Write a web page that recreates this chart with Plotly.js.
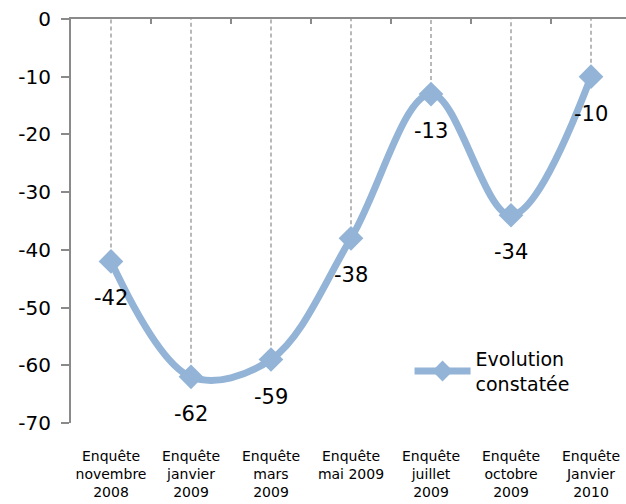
<!DOCTYPE html>
<html><head><meta charset="utf-8">
<script src="https://cdn.plot.ly/plotly-3.0.1.min.js"></script>
<style>body{margin:0;padding:0;background:#fff}</style>
</head><body><div id="chart" style="width:626px;height:504px"></div>
<script>
const categories = [
  "Enquête<br>novembre<br>2008",
  "Enquête<br>janvier<br>2009",
  "Enquête<br>mars<br>2009",
  "Enquête<br>mai 2009",
  "Enquête<br>juillet<br>2009",
  "Enquête<br>octobre<br>2009",
  "Enquête<br>Janvier<br>2010"
];
const values = [-42, -62, -59, -38, -13, -34, -10];
const seriesName = "Evolution<br>constatée";
const yTicks = [0, -10, -20, -30, -40, -50, -60, -70];

const FONT = "DejaVu Sans, sans-serif";
const idx = categories.map((c, i) => i);

const traces = [];
// dashed drop lines from each point up to zero
values.forEach((v, i) => {
  traces.push({
    x: [i, i], y: [v, 0], mode: "lines", showlegend: false, hoverinfo: "skip",
    line: {color: "#8a8a8a", width: 1.2, dash: "4px,3px"}
  });
});
traces.push({
  x: idx, y: values, mode: "lines+markers", name: seriesName,
  line: {shape: "spline", smoothing: 1, color: "#93b4d6", width: 7},
  marker: {symbol: "diamond", size: 19, color: "#93b4d6"}
});

const annotations = values.map((v, i) => ({
  x: i, y: v, xref: "x", yref: "y", text: String(v), showarrow: false,
  yshift: -37,
  font: {family: FONT, size: 21, color: "#000"}
}));

const layout = {
  width: 626, height: 504,
  margin: {l: 71, r: 0, t: 19, b: 81},
  paper_bgcolor: "#fff", plot_bgcolor: "#fff",
  showlegend: true,
  legend: {x: 0.61, y: 0.128, xanchor: "left", yanchor: "middle",
    font: {family: FONT, size: 19, color: "#000"}, bgcolor: "rgba(0,0,0,0)",
    itemwidth: 56},
  xaxis: {
    range: [-0.5, 6.4375], tickmode: "array", tickvals: idx, ticktext: categories,
    showline: false, showgrid: false, zeroline: false, ticks: "",
    ticklabelstandoff: 23,
    tickfont: {family: FONT, size: 14, color: "#000"}
  },
  xaxis2: {
    overlaying: "x", side: "top", anchor: "y", range: [-0.5, 6.4375],
    tickmode: "array", tickvals: [0.5, 1.5, 2.5, 3.5, 4.5, 5.5],
    ticks: "inside", ticklen: 5, tickcolor: "#8a8a8a", tickwidth: 2,
    showticklabels: false, showline: true, linecolor: "#8a8a8a", linewidth: 2,
    showgrid: false, zeroline: false
  },
  yaxis: {
    range: [-70, 0], tickmode: "array", tickvals: yTicks, ticktext: yTicks.map(String),
    showline: true, linecolor: "#8a8a8a", linewidth: 2, ticks: "outside",
    ticklen: 8, tickcolor: "#8a8a8a", tickwidth: 2, showgrid: false, zeroline: false,
    ticklabelstandoff: 6,
    tickfont: {family: FONT, size: 20, color: "#000"}
  },
  annotations: annotations
};
traces.push({x: [0], y: [0], xaxis: "x2", yaxis: "y", mode: "markers",
  marker: {opacity: 0}, showlegend: false, hoverinfo: "skip"});

Plotly.newPlot("chart", traces, layout, {staticPlot: true, displayModeBar: false});
</script></body></html>
